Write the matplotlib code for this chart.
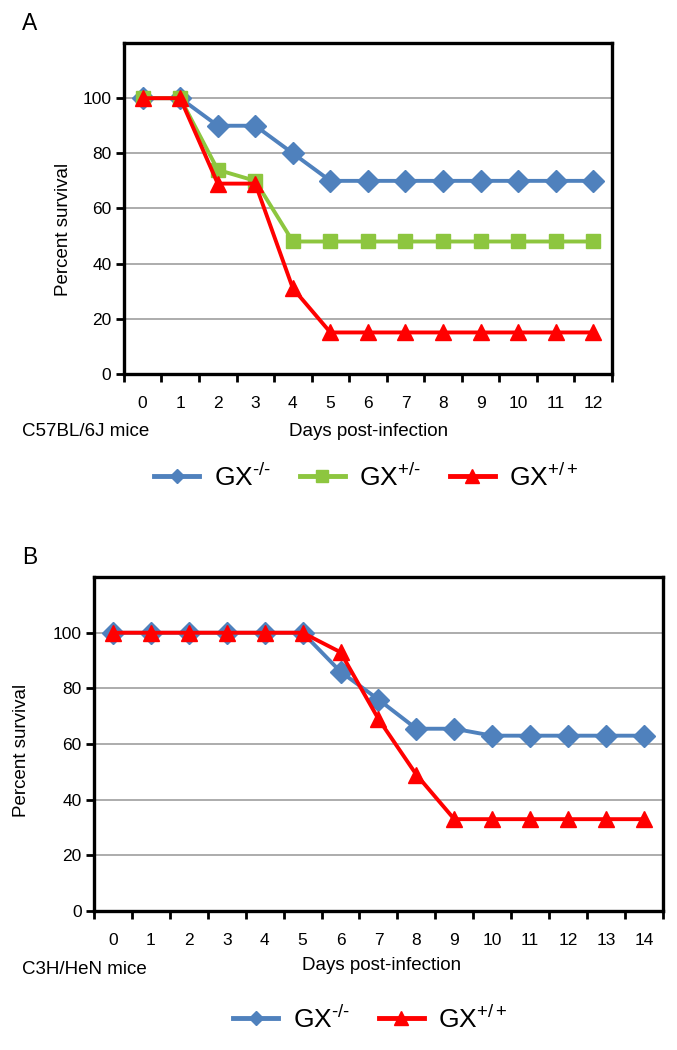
import numpy as np
import matplotlib.pyplot as plt
from matplotlib.lines import Line2D

plt.rcParams['font.family'] = ['Liberation Sans', 'DejaVu Sans']
plt.rcParams['mathtext.fontset'] = 'custom'
plt.rcParams['mathtext.rm'] = 'Liberation Sans'
plt.rcParams['mathtext.it'] = 'Liberation Sans'

# panel A: C57BL/6J mice
days_a = list(range(0, 13))
ko_a = [100, 100, 90, 90, 80, 70, 70, 70, 70, 70, 70, 70, 70]
het_a = [100, 100, 74, 70, 48, 48, 48, 48, 48, 48, 48, 48, 48]
wt_a = [100, 100, 69, 69, 31, 15, 15, 15, 15, 15, 15, 15, 15]

# panel B: C3H/HeN mice
days_b = list(range(0, 15))
ko_b = [100, 100, 100, 100, 100, 100, 86, 76, 65.5, 65.5, 63, 63, 63, 63, 63]
wt_b = [100, 100, 100, 100, 100, 100, 93, 69, 49, 33, 33, 33, 33, 33, 33]

labels_a = ['GX$^{\u2010/\u2010}$', 'GX$^{+/\u2010}$', 'GX$^{+/+}$']
labels_b = ['GX$^{\u2010/\u2010}$', 'GX$^{+/+}$']

blue = '#4F81BD'
green = '#8DC63F'
red = '#FF0000'

fig = plt.figure(figsize=(6.77, 10.5), dpi=100)


def style_axes(ax, days):
    n = len(days)
    ax.set_xlim(-0.5, n - 0.5)
    ax.set_ylim(0, 120)
    ax.set_yticks([0, 20, 40, 60, 80, 100])
    ax.set_xticks(days)
    ax.set_xticklabels([str(d) for d in days])
    ax.set_xticks(np.arange(-0.5, n), minor=True)
    ax.tick_params(axis='x', which='major', length=0, pad=16, labelsize=12.5)
    ax.tick_params(axis='x', which='minor', length=6, width=2, direction='out')
    ax.tick_params(axis='y', length=6, width=2, direction='out', labelsize=12.5, pad=3)
    ax.grid(axis='y', color='#A6A6A6', linewidth=1.3)
    ax.set_axisbelow(True)
    for s in ax.spines.values():
        s.set_linewidth(2.4)
        s.set_color('black')
    ax.set_ylabel('Percent survival', fontsize=13.5)


# ---- A ----
ax1 = fig.add_axes([0.183, 0.644, 0.721, 0.315])
ax1.plot(days_a, ko_a, color=blue, marker='D', ms=11, lw=2.8, zorder=3)
ax1.plot(days_a, het_a, color=green, marker='s', ms=10, lw=2.8, zorder=4)
ax1.plot(days_a, wt_a, color=red, marker='^', ms=12, lw=2.8, zorder=5)
style_axes(ax1, days_a)
ax1.yaxis.set_label_coords(-0.107, 0.435)

fig.text(0.032, 1 - 23 / 1050, 'A', fontsize=16.5, va='center')
fig.text(0.033, 1 - 431 / 1050, 'C57BL/6J mice', fontsize=13.5, va='center')
fig.text(0.545, 1 - 431 / 1050, 'Days post-infection', fontsize=13.5, va='center', ha='center')

h_a = [Line2D([], [], color=blue, marker='D', ms=7, lw=3.5),
       Line2D([], [], color=green, marker='s', ms=8, lw=3.5),
       Line2D([], [], color=red, marker='^', ms=10, lw=3.5)]
fig.legend(h_a, labels_a, loc='center',
           bbox_to_anchor=(0.541, 1 - 477 / 1050), ncol=3, frameon=False,
           fontsize=19, handlelength=1.7, columnspacing=1.1, handletextpad=0.55)

# ---- B ----
ax2 = fig.add_axes([0.139, 0.1324, 0.840, 0.318])
ax2.plot(days_b, ko_b, color=blue, marker='D', ms=11, lw=2.8, zorder=3)
ax2.plot(days_b, wt_b, color=red, marker='^', ms=12, lw=2.8, zorder=5)
style_axes(ax2, days_b)
ax2.yaxis.set_label_coords(-0.112, 0.48)

fig.text(0.032, 1 - 557 / 1050, 'B', fontsize=16.5, va='center')
fig.text(0.033, 1 - 970 / 1050, 'C3H/HeN mice', fontsize=13.5, va='center')
fig.text(0.564, 1 - 966 / 1050, 'Days post-infection', fontsize=13.5, va='center', ha='center')

h_b = [Line2D([], [], color=blue, marker='D', ms=7, lw=3.5),
       Line2D([], [], color=red, marker='^', ms=10, lw=3.5)]
fig.legend(h_b, labels_b, loc='center',
           bbox_to_anchor=(0.547, 1 - 1019 / 1050), ncol=2, frameon=False,
           fontsize=19, handlelength=1.7, columnspacing=1.1, handletextpad=0.55)

fig.savefig('out.png', dpi=100)
